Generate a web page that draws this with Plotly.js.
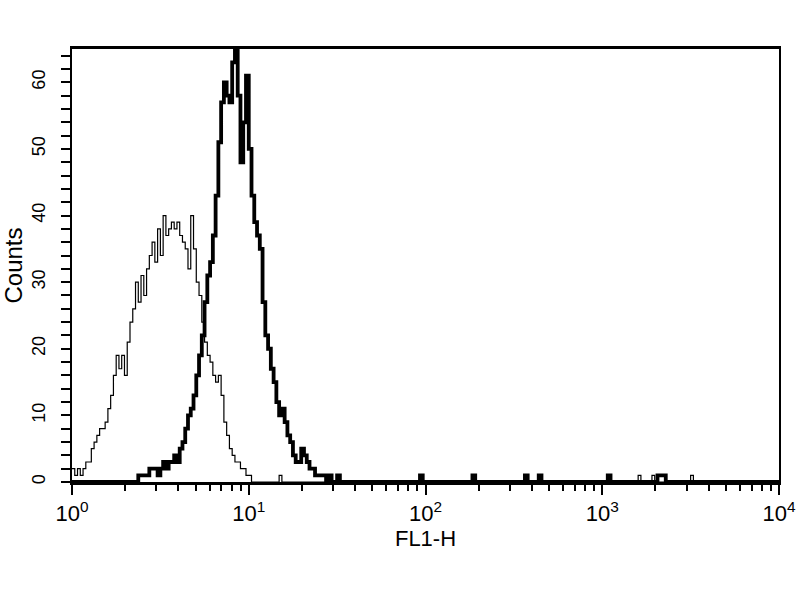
<!DOCTYPE html>
<html>
<head>
<meta charset="utf-8">
<script src="https://cdn.plot.ly/plotly-3.0.1.min.js"></script>
<style>
  body { margin: 0; background: #fff; }
  #mydiv { width: 800px; height: 600px; }
</style>
</head>
<body>
<div id="mydiv"></div>
<script>
// 256 log channels over 4 decades (channel c starts at 10^(c/64))
var thinStart = 0;
var thinCounts = [2,1,2,1,2,3,3,5,6,7,8,8,9,11,13,16,19,17,19,16,21,24,26,30,27,31,28,32,34,36,
                  33,38,34,40,37,38,39,38,39,37,36,35,32,40,35,30,28,24,21,19,18,16,15,16,13,9,7,5,4,3,
                  3,2,2,1,1,0];
var thinEvents = [75, 205, 210, 224];

var thickStart = 23;
var thickCounts = [0,1,1,1,1,2,2,2,1,2,3,2,3,3,4,3,5,6,8,10,11,13,16,19,22,27,31,33,37,43,
                   51,57,60,58,57,63,66,58,48,54,61,50,43,39,37,35,27,22,20,17,15,12,10,11,9,7,6,4,3,3,
                   5,4,3,2,2,1,1,1,1,0,1,0,0,1,0];
var thickEvents = [126, 145, 164, 169, 194, 212, 213, 214];

var decades = [1, 10, 100, 1000, 10000];
var decadeLabels = ['10<sup>0</sup>', '10<sup>1</sup>', '10<sup>2</sup>', '10<sup>3</sup>', '10<sup>4</sup>'];
var yLabelStep = 10;
var yTickStep = 2;
var yMax = 65;

function histogram(start, counts, events)
{
    var ch = [];
    for (var c = 0; c < 256; c++) ch.push(0);
    for (var i = 0; i < counts.length; i++) ch[start + i] += counts[i];
    for (var j = 0; j < events.length; j++) ch[events[j]] += 1;

    var x = [], y = [];
    for (var k = 0; k < 256; k++)
    {
        x.push(Math.pow(10, k / 64));
        y.push(ch[k]);
    }
    x.push(10000);
    y.push(ch[255]);
    return {x: x, y: y};
}

// short ticks at every digit of every decade, labels only on the decades
var xTickVals = [], xTickText = [];
for (var d = 0; d < decades.length; d++)
{
    xTickVals.push(decades[d]);
    xTickText.push(decadeLabels[d]);
    if (d < decades.length - 1)
    {
        for (var m = 2; m <= 9; m++)
        {
            xTickVals.push(decades[d] * m);
            xTickText.push('');
        }
    }
}

var yTickVals = [], yTickText = [];
for (var v = 0; v <= yMax; v += yTickStep)
{
    yTickVals.push(v);
    yTickText.push(v % yLabelStep === 0 ? String(v) : '');
}

var h1 = histogram(thinStart, thinCounts, thinEvents);
var h2 = histogram(thickStart, thickCounts, thickEvents);

var control = {
    x: h1.x, y: h1.y,
    type: 'scatter', mode: 'lines',
    line: {shape: 'hv', color: '#000', width: 1.2},
    hoverinfo: 'skip'
};

var stained = {
    x: h2.x, y: h2.y,
    type: 'scatter', mode: 'lines',
    line: {shape: 'hv', color: '#000', width: 3.8},
    hoverinfo: 'skip'
};

// empty trace so the long decade ticks have their own axis
var decadeAxis = {
    x: [1], y: [null], xaxis: 'x2', yaxis: 'y',
    type: 'scatter', mode: 'lines', hoverinfo: 'skip'
};

var layout = {
    width: 800, height: 600,
    margin: {l: 72, r: 21, t: 49, b: 118},
    paper_bgcolor: '#fff', plot_bgcolor: '#fff',
    showlegend: false,
    font: {family: 'Liberation Sans, Arial, sans-serif', size: 18, color: '#000'},
    xaxis: {
        type: 'log', range: [0, 4],
        tickmode: 'array', tickvals: xTickVals, ticktext: xTickText,
        ticks: 'outside', ticklen: 6, tickwidth: 2, tickcolor: '#000',
        tickfont: {size: 22}, ticklabelstandoff: 4,
        showline: true, linewidth: 3, linecolor: '#000', mirror: true,
        showgrid: false, zeroline: false,
        title: {text: 'FL1-H', standoff: 2, font: {size: 22}}
    },
    xaxis2: {
        type: 'log', range: [0, 4], overlaying: 'x', anchor: 'y', side: 'bottom',
        tickmode: 'array', tickvals: decades, ticktext: ['', '', '', '', ''],
        ticks: 'outside', ticklen: 12, tickwidth: 2, tickcolor: '#000',
        showline: false, showgrid: false, zeroline: false
    },
    yaxis: {
        range: [0, yMax],
        tickmode: 'array', tickvals: yTickVals, ticktext: yTickText,
        ticks: 'outside', ticklen: 9, tickwidth: 2, tickcolor: '#000',
        tickangle: -90, tickfont: {size: 18}, ticklabelstandoff: 9,
        showline: true, linewidth: 2, linecolor: '#000', mirror: true,
        showgrid: false, zeroline: false,
        title: {text: 'Counts', standoff: 4, font: {size: 24}}
    }
};

Plotly.newPlot('mydiv', [control, stained, decadeAxis], layout, {staticPlot: true});
</script>
</body>
</html>
